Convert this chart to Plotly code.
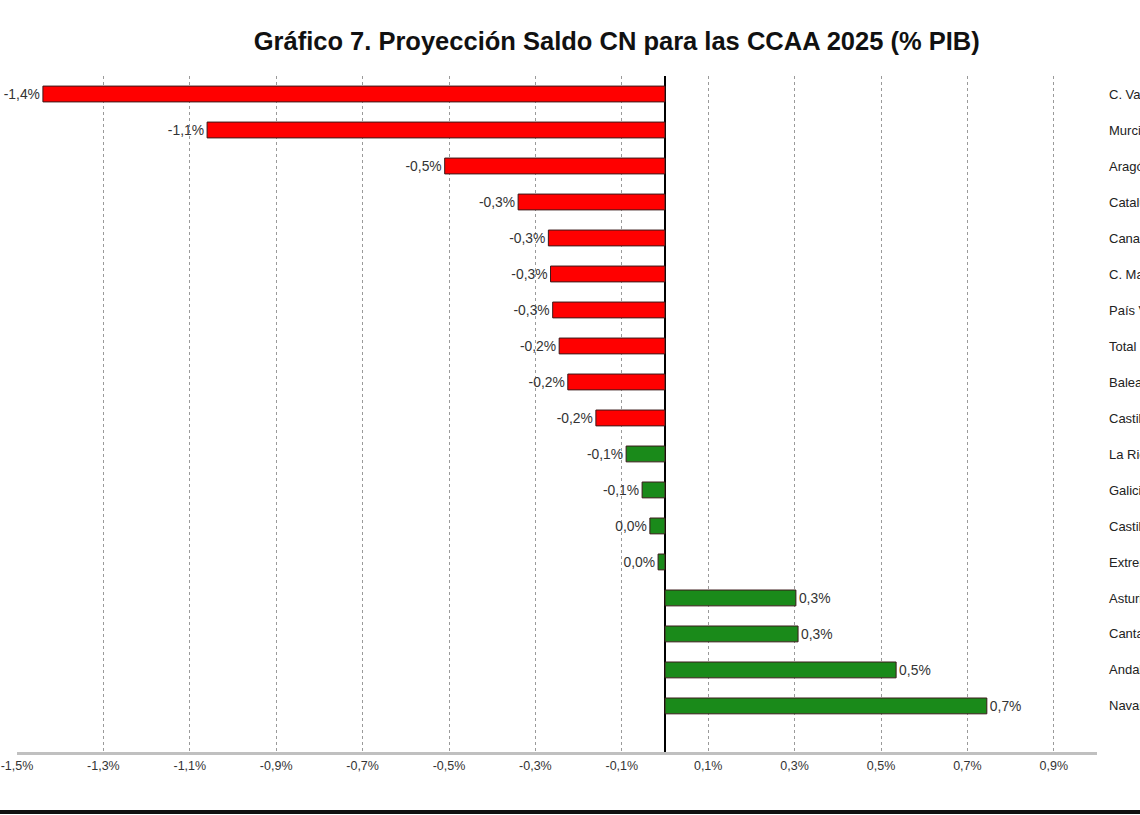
import plotly.graph_objects as go

regions = ["C. Valenciana", "Murcia", "Aragón", "Cataluña", "Canarias", "C. Madrid",
           "País Vasco", "Total CCAA", "Baleares", "Castilla-La Mancha", "La Rioja",
           "Galicia", "Castilla y León", "Extremadura", "Asturias", "Cantabria",
           "Andalucía", "Navarra"]
values = [-1.44, -1.06, -0.51, -0.34, -0.27, -0.265, -0.26, -0.245, -0.225, -0.16,
          -0.09, -0.053, -0.035, -0.016, 0.303, 0.308, 0.535, 0.745]
labels = ["-1,4%", "-1,1%", "-0,5%", "-0,3%", "-0,3%", "-0,3%", "-0,3%", "-0,2%", "-0,2%",
          "-0,2%", "-0,1%", "-0,1%", "0,0%", "0,0%", "0,3%", "0,3%", "0,5%", "0,7%"]
groups = ["neg"] * 10 + ["pos"] * 8
tick_vals = [-1.5, -1.3, -1.1, -0.9, -0.7, -0.5, -0.3, -0.1, 0.1, 0.3, 0.5, 0.7, 0.9]
tick_text = ["-1,5%", "-1,3%", "-1,1%", "-0,9%", "-0,7%", "-0,5%", "-0,3%", "-0,1%",
             "0,1%", "0,3%", "0,5%", "0,7%", "0,9%"]

color_map = {"neg": "#ff0000", "pos": "#1a8a1a"}
bar_colors = [color_map[g] for g in groups]

fig = go.Figure(go.Bar(
    x=values, y=regions, orientation="h",
    marker=dict(color=bar_colors, line=dict(color="#3a1a1a", width=1)),
    width=0.44,
    text=labels, textposition="outside", cliponaxis=False,
    textfont=dict(family="Liberation Sans, Arial", size=14, color="#333333"),
    hoverinfo="skip",
))

fig.update_layout(
    width=1140, height=815,
    margin=dict(l=17, r=43, t=76, b=63, autoexpand=False),
    paper_bgcolor="white", plot_bgcolor="white",
    showlegend=False,
    title=dict(text="<b>Gráfico 7. Proyección Saldo CN para las CCAA 2025 (% PIB)</b>",
               x=0.541, xanchor="center", y=0.949, yanchor="middle",
               font=dict(family="Liberation Sans, Arial", size=25.5, color="#111111")),
    font=dict(family="Liberation Sans, Arial", size=12, color="#222222"),
)
fig.update_xaxes(
    range=[-1.5, 1.0], tickvals=tick_vals, ticktext=tick_text, automargin=False,
    ticklabeloverflow="allow",
    showgrid=True, gridcolor="#9a9a9a", gridwidth=1, griddash="3px,3px",
    zeroline=True, zerolinecolor="#000000", zerolinewidth=2,
    showline=True, linecolor="#c0c0c0", linewidth=3,
    ticks="", tickfont=dict(size=12.5, color="#333333"),
)
fig.update_yaxes(
    side="right", autorange=False, range=[18.28, -0.5], automargin=False,
    showgrid=False, zeroline=False, showline=False, ticks="",
    ticklabelstandoff=11, tickfont=dict(size=13, color="#222222"),
)
fig.add_shape(type="line", xref="paper", yref="paper",
              x0=-0.02, x1=1.05, y0=-0.0888, y1=-0.0888,
              line=dict(color="#111111", width=4))

fig.write_html("out.html", config={"displayModeBar": False},
               post_script="document.body.style.margin='0';")
